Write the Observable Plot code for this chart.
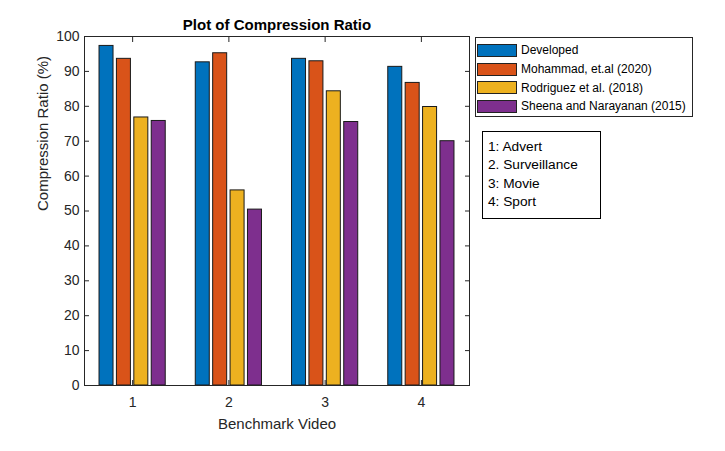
<!DOCTYPE html>
<html>
<head>
<meta charset="utf-8">
<script src="https://cdn.jsdelivr.net/npm/d3@7"></script>
<script src="https://cdn.jsdelivr.net/npm/@observablehq/plot@0.6"></script>
<style>
  body { margin: 0; background: #fff; font-family: "Liberation Sans", Arial, sans-serif; }
  #wrap { position: relative; width: 725px; height: 451px; }
  #wrap svg { position: absolute; left: 0; top: 0; }
  .legend { position: absolute; left: 475px; top: 37px; width: 218px; height: 80px; border: 1px solid #262626;
            background: #fff; box-sizing: border-box; font-size: 12px; color: #000; padding-top: 3px; }
  .legend .row { height: 18.7px; display: flex; align-items: center; }
  .legend .sw { width: 40px; height: 13px; box-sizing: border-box; border: 1px solid #222; margin-left: 1px; margin-right: 4px; flex: none; }
  .notes { position: absolute; left: 482px; top: 131px; width: 119px; height: 88px; border: 1px solid #000;
           box-sizing: border-box; background: #fff; font-size: 13.7px; color: #000; padding: 6px 0 0 5px; }
  .notes div { height: 18.3px; line-height: 18.3px; white-space: nowrap; }
</style>
</head>
<body>
<div id="wrap"></div>
<script>
// ---- data ----
const videos = [1, 2, 3, 4];
const seriesNames = ["Developed", "Mohammad, et.al (2020)", "Rodriguez et al. (2018)", "Sheena and Narayanan (2015)"];
const developed = [97.3, 92.6, 93.6, 91.3];
const mohammad  = [93.6, 95.2, 92.9, 86.7];
const rodriguez = [76.8, 55.9, 84.3, 79.8];
const sheena    = [75.8, 50.4, 75.5, 70.0];
const seriesColors = ["#0072BD", "#D95319", "#EDB120", "#7E2F8E"];
const yTicks = [0, 10, 20, 30, 40, 50, 60, 70, 80, 90, 100];
const videoNotes = ["1: Advert", "2. Surveillance", "3: Movie", "4: Sport"];
const titleText = "Plot of Compression Ratio";
const xLabel = "Benchmark Video";
const yLabel = "Compression Ratio (%)";

// ---- table ----
const allSeries = [developed, mohammad, rodriguez, sheena];
const groupStep = 0.1808, barWidth = 0.1455;
const rows = [];
allSeries.forEach((vals, i) => {
  vals.forEach((v, j) => {
    const c = videos[j] + (i - 1.5) * groupStep;
    rows.push({ series: seriesNames[i], video: videos[j], value: v, x1: c - barWidth / 2, x2: c + barWidth / 2 });
  });
});

const axisColor = "#262626";
const chart = Plot.plot({
  width: 725,
  height: 451,
  marginLeft: 84,
  marginRight: 256,
  marginTop: 36,
  marginBottom: 66,
  style: { fontFamily: "'Liberation Sans', Arial, sans-serif", fontSize: "14px", color: axisColor, background: "transparent" },
  x: { domain: [0.5, 4.5], axis: null },
  y: { domain: [0, 100], axis: null },
  color: { domain: seriesNames, range: seriesColors },
  marks: [
    Plot.rectY(rows, { x1: "x1", x2: "x2", y1: 0, y2: "value", fill: "series", stroke: "#1a1a1a", strokeWidth: 1 }),
    Plot.frame({ stroke: axisColor, strokeWidth: 1 }),
    Plot.axisY({ anchor: "left", ticks: yTicks, tickSize: -5, tickPadding: 10, label: null, fontSize: 14, color: axisColor }),
    Plot.axisY({ anchor: "right", ticks: yTicks, tickSize: -5, tickFormat: () => "", label: null, color: axisColor }),
    Plot.axisX({ anchor: "bottom", ticks: videos, tickSize: -5, tickPadding: 17, tickFormat: d3.format("d"), label: null, fontSize: 14, color: axisColor }),
    Plot.axisX({ anchor: "top", ticks: videos, tickSize: -5, tickFormat: () => "", label: null, color: axisColor }),
    Plot.text([titleText], { text: d => d, frameAnchor: "top", dy: -11, lineAnchor: "middle", fontSize: 15, fontWeight: "bold", fill: "#000" }),
    Plot.text([xLabel], { text: d => d, frameAnchor: "bottom", dy: 39, lineAnchor: "middle", fontSize: 15, fill: axisColor }),
    Plot.text([yLabel], { text: d => d, frameAnchor: "left", dx: -41, rotate: -90, lineAnchor: "middle", fontSize: 15, fill: axisColor })
  ]
});

const wrap = document.getElementById("wrap");
wrap.appendChild(chart);

// legend
const legend = document.createElement("div");
legend.className = "legend";
seriesNames.forEach((name, i) => {
  const row = document.createElement("div");
  row.className = "row";
  const sw = document.createElement("span");
  sw.className = "sw";
  sw.style.background = seriesColors[i];
  const t = document.createElement("span");
  t.textContent = name;
  row.appendChild(sw);
  row.appendChild(t);
  legend.appendChild(row);
});
wrap.appendChild(legend);

// notes box
const notes = document.createElement("div");
notes.className = "notes";
videoNotes.forEach(n => {
  const d = document.createElement("div");
  d.textContent = n;
  notes.appendChild(d);
});
wrap.appendChild(notes);
</script>
</body>
</html>
